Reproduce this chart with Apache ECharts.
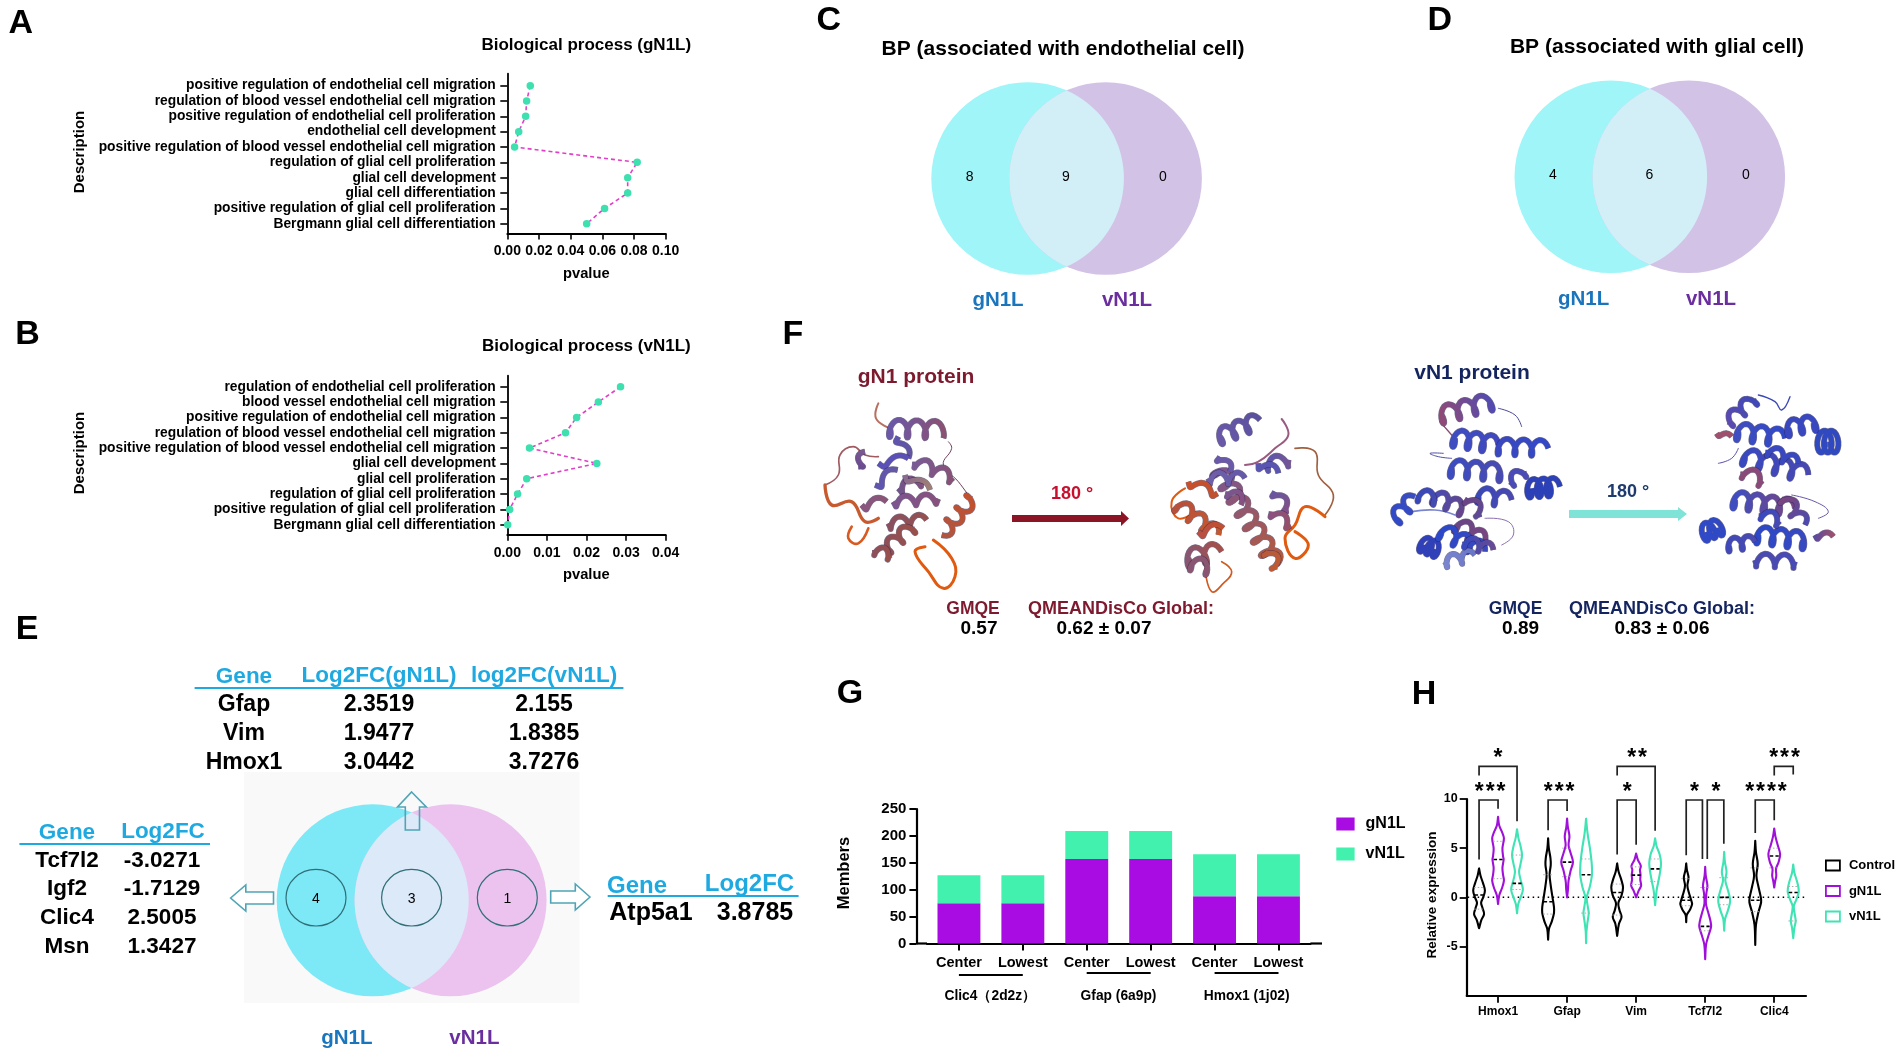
<!DOCTYPE html>
<html><head><meta charset="utf-8">
<style>html,body{margin:0;padding:0;background:#fff}#c{width:1902px;height:1054px}</style>
<script src="https://cdn.jsdelivr.net/npm/echarts@6/dist/echarts.min.js"></script>
</head><body><div id="c"></div>
<script>
// ---------- data ----------
const categoriesA=['positive regulation of endothelial cell migration','regulation of blood vessel endothelial cell migration','positive regulation of endothelial cell proliferation','endothelial cell development','positive regulation of blood vessel endothelial cell migration','regulation of glial cell proliferation','glial cell development','glial cell differentiation','positive regulation of glial cell proliferation','Bergmann glial cell differentiation'];
const pvalueA=[.0145,.0122,.0116,.0072,.0046,.082,.076,.076,.0614,.0501];
const categoriesB=['regulation of endothelial cell proliferation','blood vessel endothelial cell migration','positive regulation of endothelial cell migration','regulation of blood vessel endothelial cell migration','positive regulation of blood vessel endothelial cell migration','glial cell development','glial cell proliferation','regulation of glial cell proliferation','positive regulation of glial cell proliferation','Bergmann glial cell differentiation'];
const pvalueB=[.0286,.023,.0175,.0147,.0056,.0226,.0049,.0026,.0006,.0001];
const vennC=['8','9','0'], vennD=['4','6','0'], vennE=['4','3','1'];
const tableTopHead=['Gene','Log2FC(gN1L)','log2FC(vN1L)'];
const tableTopRows=[['Gfap','2.3519','2.155'],['Vim','1.9477','1.8385'],['Hmox1','3.0442','3.7276']];
const tableLeftHead=['Gene','Log2FC'];
const tableLeftRows=[['Tcf7l2','-3.0271'],['Igf2','-1.7129'],['Clic4','2.5005'],['Msn','1.3427']];
const tableRightHead=['Gene','Log2FC'];
const tableRightRows=[['Atp5a1','3.8785']];
const barCategories=['Center','Lowest','Center','Lowest','Center','Lowest'];
const barGroups=['Clic4（2d2z）','Gfap (6a9p)','Hmox1 (1j02)'];
const membersG=[75,75,157,157,88,88];
const membersV=[52,52,52,52,78,78];
const genes=['Hmox1','Gfap','Vim','Tcf7l2','Clic4'];
const violinControl=[
 [[2.94,0],[2.2,.25],[1.4,.7],[.7,1],[0,.7],[-.55,.35],[-1.1,.6],[-1.7,.85],[-2.3,.4],[-3.14,0]],
 [[6,0],[5,.12],[4,.4],[3.3,.45],[2.3,.25],[1.2,.45],[0,.75],[-1,1],[-1.6,1],[-2.5,.6],[-3.2,.15],[-4.3,0]],
 [[3.45,0],[2.6,.25],[1.8,.7],[1,1],[.2,.75],[-.6,.2],[-1.3,.4],[-2,.75],[-2.7,.3],[-3.92,0]],
 [[3.45,0],[2.8,.12],[2,.4],[1.2,.2],[.5,.45],[-.2,.8],[-.7,1],[-1.3,.6],[-1.8,.1],[-2.53,0]],
 [[5.74,0],[4.6,.12],[3.4,.42],[2.2,.2],[1.2,.5],[0,.95],[-.5,1],[-1.5,.55],[-2.8,.12],[-4.83,0]]];
const violinGN1L=[
 [[8.18,0],[7.3,.2],[6.6,.7],[6,1],[5,.75],[4.2,.85],[3.85,.95],[3,.75],[2.3,.85],[1.7,1],[.9,.65],[.2,.2],[-.68,0]],
 [[8,0],[7.2,.12],[6.2,.4],[5.3,.25],[4.5,.6],[3.6,1],[2.7,.6],[1.7,.25],[.8,.15],[0,0]],
 [[4.46,0],[3.8,.3],[3.2,.8],[2.8,.65],[2.3,.75],[1.8,.7],[1.2,.85],[.7,.45],[0,0]],
 [[3.1,0],[2.2,.1],[1.2,.38],[.4,.2],[-.6,.12],[-1.5,.5],[-2.4,.9],[-3,1],[-3.8,.6],[-4.8,.15],[-6.28,0]],
 [[7,0],[6.2,.2],[5.3,.6],[4.4,1],[3.6,.75],[2.9,.3],[2.2,.35],[1.6,.15],[1,0]]];
const violinVN1L=[
 [[6.93,0],[6,.25],[5.2,.6],[4.3,.85],[3.4,.6],[2.6,.35],[1.8,.6],[.8,1],[0,.6],[-.7,.2],[-1.62,0]],
 [[8,0],[6.5,.25],[5,.65],[3.5,.95],[2.3,1],[1,.6],[0,.12],[-.8,.25],[-1.6,.45],[-2.5,.25],[-3.5,.06],[-4.66,0]],
 [[6,0],[5.2,.25],[4.4,.75],[3.5,1],[2.6,.85],[1.6,.55],[.7,.25],[-.8,0]],
 [[4.63,0],[3.6,.12],[2.6,.4],[1.7,.2],[.8,.6],[0,.95],[-.5,1],[-1.4,.6],[-2.2,.15],[-3.38,0]],
 [[3.34,0],[2.5,.2],[1.5,.7],[.6,.95],[-.2,.55],[-.9,.1],[-1.7,.25],[-2.4,.42],[-3.1,.2],[-4.15,0]]];
const medianControl=[.24,-.44,.5,-.3,-.3], medianGN1L=[3.85,3.58,2.26,-2.95,4.2], medianVN1L=[1.42,2.3,2.9,0,.5];
const quartControl=[[1,-1.2],[2.3,-1.7],[1.35,-1.8],[1.9,-.85],[3,-1.45]];
const quartGN1L=[[5.7,1.9],[5,2.1],[3.1,1.3],[1,-3.4],[5,3]];
const quartVN1L=[[4.3,.8],[3.9,-1.6],[3.9,1.6],[2,-.75],[1.1,-2.4]];
// x1, x2, top, left end, right end (x in gene units, y on the expression scale)
const brackets=[[-.275,.275,13.31,12.4,7.74],[-.275,0,9.9,3.85,9.02],[.725,1,9.9,6.82,8.78],[1.725,2.275,13.31,12.4,6.76],[1.725,2,9.9,4.36,5.34],[2.725,2.96,9.9,4.29,3.89],[3.03,3.27,9.9,3.89,5.44],[3.725,4,9.9,6.55,7.84],[4,4.275,13.31,12.4,12.5]];
const stars=[[0,14.53,'*'],[-.115,11.05,'***'],[.885,11.05,'***'],[2.014,14.53,'**'],[1.87,11.05,'*'],[2.845,11.05,'*'],[3.155,11.05,'*'],[3.88,11.05,'****'],[4.15,14.53,'***']];

// ---------- helpers ----------
const FF='"Liberation Sans",Arial,sans-serif';
const BLK='#000';
function txt(text,x,y,size,opt){opt=opt||{};return {type:'text',x:x,y:y,rotation:opt.rot||0,silent:true,z:20,style:{text:text,font:(opt.weight||'bold')+' '+size+'px '+FF,fill:opt.color||BLK,textAlign:opt.align||'center',textVerticalAlign:'middle'}};}
function hline(x1,x2,y,color,w){return {type:'line',silent:true,z:15,shape:{x1:x1,y1:y,x2:x2,y2:y},style:{stroke:color,lineWidth:w||2}};}
function circle(cx,cy,r,fill,extra){return Object.assign({type:'circle',silent:true,z:5,shape:{cx:cx,cy:cy,r:r},style:{fill:fill}},extra||{});}
function lens(c1,c2,cy,r,fill){const d=(c2-c1)/2,a=Math.acos(d/r),pts=[];
 for(let i=0;i<=40;i++){const t=-a+2*a*i/40;pts.push([c1+r*Math.cos(t),cy+r*Math.sin(t)]);}
 for(let i=0;i<=40;i++){const t=a-2*a*i/40;pts.push([c2-r*Math.cos(t),cy+r*Math.sin(t)]);}
 return {type:'polygon',silent:true,z:6,shape:{points:pts},style:{fill:fill}};}
function venn(c1,c2,cy,r,cols,labels,lx,ly){
 const o=[circle(c1,cy,r,cols[0]),circle(c2,cy,r,cols[1]),lens(c1,c2,cy,r,cols[2])];
 labels.forEach((t,i)=>o.push(txt(t,lx[i],ly,14,{weight:'normal'})));return o;}
function helix(h){const [x1,y1,x2,y2,turns,amp0,c1,c2,w]=h;const amp=amp0*1.1,dx=x2-x1,dy=y2-y1,L=Math.hypot(dx,dy)||1,ux=dx/L,uy=dy/L,nx=-uy,ny=ux,N=Math.max(10,Math.round(turns*18)),pts=[];
 for(let i=0;i<=N;i++){const t=i/N,ph=2*Math.PI*turns*t,s=amp*Math.sin(ph),c=amp*.5*(Math.cos(ph)-1);pts.push([x1+dx*t+nx*s+ux*c,y1+dy*t+ny*s+uy*c]);}
 const grad=new echarts.graphic.LinearGradient(x1,y1,x2,y2,[{offset:0,color:c1},{offset:1,color:c2}],true);
 return [{type:'polyline',silent:true,shape:{points:pts},style:{stroke:'rgba(30,25,70,.6)',lineWidth:(w||15)+3,fill:null,lineJoin:'round'}},
  {type:'polyline',silent:true,shape:{points:pts},style:{stroke:grad,lineWidth:w||15,fill:null,lineJoin:'round'}}];}
function loopLine(l){return {type:'polyline',silent:true,shape:{points:l[0],smooth:.45},style:{stroke:l[1],lineWidth:l[2],fill:null,lineCap:'round'}};}
function protein(x,y,hel,loops){const ch=[];loops.forEach(l=>ch.push(loopLine(l)));hel.forEach(h=>ch.push(...helix(h)));return {type:'group',x:x,y:y,scaleX:1/3,scaleY:1/3,z:8,children:ch};}
function arrowPoly(pts,stroke,fill){return {type:'polygon',silent:true,z:12,shape:{points:pts},style:{stroke:stroke,lineWidth:1.6,fill:fill||'none'}};}

// ---------- protein ribbons (decorative, traced by eye) ----------
const gHel=[
 [225,100,395,105,3.2,24,'#6a58a8','#8d5070'],[250,125,280,190,1,12,'#5f54ae','#62549f'],[190,205,280,190,1,12,'#5a50b8','#5a50b8'],
 [180,270,248,225,1,14,'#5d55b0','#6558a5'],[140,330,215,320,1,14,'#8a5680','#8a5575'],[250,280,335,250,1.5,16,'#73558c','#87507a'],
 [235,320,385,310,2.5,14,'#7c5590','#8a507a'],[300,200,430,255,2.5,16,'#7a5a95','#8a5070'],[220,385,335,375,2,16,'#8a5060','#955050'],
 [215,460,305,385,2.5,18,'#8e4f58','#9b5048'],[470,312,380,420,3,18,'#c2502f','#b05540'],[180,465,240,485,1.5,14,'#8e4f58','#9b5048'],
 [270,240,345,285,1,12,'#8a6a90','#a08070'],[130,215,150,170,1,12,'#6a4a90','#7a5a90'],
 // second view
 [1215,125,1335,75,3,22,'#6a58a8','#5a50a0'],[1215,230,1385,510,7,24,'#7a5590','#b85a3a'],[1180,250,1290,250,2,16,'#7060a8','#6558a8'],
 [1350,210,1440,190,1.5,18,'#5a55b0','#7a5590'],[1380,290,1430,360,1.5,14,'#6a55a0','#8a5080'],[1120,260,1220,300,1.5,12,'#c8502a','#c05030'],
 [1090,330,1210,420,3,20,'#b8503a','#c45a30'],[1120,490,1220,470,2,26,'#8a5570','#a55048'],
 [1330,205,1390,235,1,14,'#5a55b0','#5a55b0'],[1215,185,1245,230,1,14,'#6a58a8','#6a58a8'],[1370,350,1440,400,1.5,14,'#8a5080','#9a5060'],
 [1150,410,1225,400,1,14,'#b85045','#c05030'],[1130,505,1200,525,1.5,20,'#8a5570','#8a5570'],[1360,470,1395,530,1.5,16,'#b85a3a','#c05a30'],[1240,290,1290,320,1.2,14,'#7a5590','#8a5080']];
const gLoop=[
 [[[190,25],[183,70],[225,100]],'#b87060',6],[[[30,270],[70,240],[75,180],[115,155],[150,180],[190,185]],'#a05a60',5],
 [[[30,270],[50,330],[110,320],[150,380],[190,370]],'#c85a30',10],[[[110,395],[100,430],[130,445],[160,400]],'#d85a20',8],
 [[[355,435],[410,490],[420,545],[385,580],[340,530],[300,470],[330,455]],'#e05a10',9],[[[400,140],[410,160],[385,210],[430,260],[470,315]],'#704060',3],
 [[[1400,72],[1420,120],[1380,160],[1330,200],[1290,210]],'#9a5a80',6],[[[1440,160],[1500,170],[1510,240],[1555,300],[1530,360]],'#a06040',5],
 [[[1530,365],[1470,335],[1440,390],[1410,430],[1440,490],[1480,450],[1440,410]],'#e05a10',9],[[[1170,520],[1190,590],[1225,565],[1250,530],[1220,500]],'#d05a20',5],
 [[[1110,280],[1070,320],[1090,370],[1140,350]],'#e05a10',6]];
const vHel=[
 [170,90,340,45,3.5,24,'#8f4a78','#4a4ab8'],[210,160,340,180,3,24,'#3f4dc0','#4048c0'],[340,185,490,190,3,22,'#3a48c0','#3348c8'],
 [200,250,370,265,3.5,24,'#3d4cc0','#4a4ab0'],[375,290,430,250,1.5,16,'#4a4ab8','#4a4ab8'],[440,310,525,305,3,25,'#2c40b8','#2c40b8'],
 [30,400,90,335,2,20,'#2f49c8','#3a4cc0'],[150,335,250,380,2.5,20,'#4a4ab0','#6a4585'],[280,330,380,345,2,22,'#3a48b8','#4a48b0'],
 [220,420,300,470,2,22,'#6a4585','#7a4580'],[120,480,170,500,2.5,22,'#3040b8','#3040b8'],[170,440,300,500,3,22,'#2c48c8','#3a48c0'],
 [180,530,270,510,2,16,'#7a85d0','#6a75c8'],[100,330,170,345,1.5,18,'#3848b8','#4a4ab0'],[250,340,300,400,1.5,16,'#6a4585','#5a4a9a'],[240,470,325,495,2,16,'#3a48c0','#6a4a90'],
 // second view
 [1030,110,1120,30,2.5,18,'#5a4ab0','#3a48b8'],[1060,140,1200,160,3,24,'#3f4dc0','#3048c8'],[1210,130,1310,110,2.5,22,'#3a48c0','#3a48c0'],
 [1320,170,1370,170,2.5,30,'#3048c0','#3048c0'],[1080,215,1270,270,4,24,'#3a48c0','#4848b0'],[1075,260,1150,295,1.5,18,'#8a4a78','#8a4a78'],
 [1050,345,1230,370,4,24,'#3f4dc0','#7a4580'],[965,440,1020,420,2.5,24,'#2f49c8','#3048c0'],[1120,450,1280,470,3.5,24,'#2c48c8','#3a48c0'],
 [1030,480,1110,470,2,18,'#4048b8','#4a4ab0'],[1110,525,1250,530,2.5,18,'#4a4ab0','#4a4ab8'],[1200,340,1260,420,2,18,'#7a4580','#4a4ab0'],
 [1290,450,1345,455,1,10,'#5a4aa0','#a0506a'],[995,145,1040,155,1,6,'#a0506a','#a0506a'],
 [1150,195,1240,235,2,16,'#3a48c0','#3a48c0'],[1130,385,1200,415,1.5,16,'#3a48c0','#4a4ab0']];
const vLoop=[
 [[[165,110],[200,150]],'#8a4a70',4],[[[340,70],[390,90],[410,125]],'#4a4a98',3],[[[175,205],[135,205],[160,215],[200,220]],'#5050a8',3],
 [[[80,380],[150,375],[210,390]],'#7a85d0',5],[[[300,400],[370,410],[385,450],[350,480]],'#8a70b0',3],
 [[[1120,30],[1170,50],[1190,75],[1215,35]],'#3a48b8',4],[[[1000,235],[1040,220],[1060,190]],'#5a50a8',3],[[[1220,330],[1290,350],[1330,380],[1300,400]],'#6a58a8',3]];

// ---------- static layer ----------
const graphics=[];
[['A',20.7,24],['B',27.5,335],['C',828.7,21],['D',1439.8,21],['E',27,630],['F',793,335],['G',850,694],['H',1424,695]].forEach(l=>graphics.push(txt(l[0],l[1],l[2],34)));
graphics.push(txt('Biological process (gN1L)',586.3,45,17),txt('Biological process (vN1L)',586.3,346.5,17));
graphics.push(txt('pvalue',586.3,274,14.7),txt('pvalue',586.3,575,14.7));
graphics.push(txt('Description',80.3,152,15,{rot:Math.PI/2}),txt('Description',80.3,453,15,{rot:Math.PI/2}));
// C, D
const venCols=['#9FF5F8','#D2C3E6','#D2EFF8'];
graphics.push(...venn(1027.6,1105.6,178.5,96.3,venCols,vennC,[969.6,1066,1163],177));
graphics.push(...venn(1610.8,1688.8,176.7,96.3,venCols,vennD,[1552.8,1649.4,1746],175));
graphics.push(txt('BP (associated with endothelial cell)',1063,49,21),txt('BP (associated with glial cell)',1657,47,21));
const BLUE='#1A75BC',PUR='#6A2E9E';
graphics.push(txt('gN1L',998,300,20.5,{color:BLUE}),txt('vN1L',1127,300,20.5,{color:PUR}),txt('gN1L',1583.6,299,20.5,{color:BLUE}),txt('vN1L',1711,299,20.5,{color:PUR}));
// E
graphics.push({type:'rect',silent:true,z:1,shape:{x:244,y:772,width:335.5,height:231},style:{fill:'#F9F9FA'}});
graphics.push(...venn(372.7,450.6,900.3,96,['#7DE8F6','#EBC3EE','#DBE9F8'],[],[],0));
[316,411.6,507.3].forEach((x,i)=>{graphics.push({type:'ellipse',silent:true,z:9,shape:{cx:x,cy:897.7,rx:30,ry:28.3},style:{fill:'none',stroke:'#2F6F78',lineWidth:1.2}});graphics.push(txt(vennE[i],x,899,14,{weight:'normal'}));});
graphics.push(arrowPoly([[411.6,792],[426.3,807],[419.5,807],[419.5,830],[405.3,830],[405.3,807],[397.5,807]],'#4FA5B5'));
graphics.push(arrowPoly([[230.6,898],[245.8,885],[245.8,892],[273.5,892],[273.5,904],[245.8,904],[245.8,911]],'#4FA5B5','#fff'));
graphics.push(arrowPoly([[590,897],[575.3,884],[575.3,891],[550.7,891],[550.7,903],[575.3,903],[575.3,910]],'#4FA5B5','#fff'));
const TB='#1FA9E1',TF=22.5;
[244,379,544].forEach((x,i)=>graphics.push(txt(tableTopHead[i],x,i?676:677,TF,{color:TB})));
graphics.push(hline(194.6,623.4,688,TB,2.2));
tableTopRows.forEach((r,j)=>[244,379,544].forEach((x,i)=>graphics.push(txt(r[i],x,[705,734,763][j],TF+.5))));
[67,163].forEach((x,i)=>graphics.push(txt(tableLeftHead[i],x,i?832:833,TF,{color:TB})));
graphics.push(hline(19.4,210,844,TB,2.2));
tableLeftRows.forEach((r,j)=>[67,162].forEach((x,i)=>graphics.push(txt(r[i],x,[861,889,918,947][j],TF))));
[637,749.5].forEach((x,i)=>graphics.push(txt(tableRightHead[i],x,i?884:886,24,{color:TB})));
graphics.push(hline(607.7,798.6,896,TB,2.2));
tableRightRows.forEach(r=>[651,755].forEach((x,i)=>graphics.push(txt(r[i],x,913,25))));
graphics.push(txt('gN1L',346.8,1038,20.5,{color:BLUE}),txt('vN1L',474.4,1038,20.5,{color:PUR}));
// F
const DR='#7E1A2E',DN='#14245E';
graphics.push(txt('gN1 protein',916,377,21,{color:DR}),txt('vN1 protein',1472,373,21,{color:DN}));
graphics.push(protein(815,395,gHel,gLoop),protein(1385,385,vHel,vLoop));
graphics.push(txt('180 °',1072,494,18,{color:'#C8102E'}),txt('180 °',1628,492,18,{color:'#1E3A6E'}));
graphics.push({type:'polygon',silent:true,z:8,shape:{points:[[1012,515],[1121,515],[1121,511],[1129,518.5],[1121,526],[1121,522],[1012,522]]},style:{fill:'#8B1425'}});
graphics.push({type:'polygon',silent:true,z:8,shape:{points:[[1569,510],[1678,510],[1678,507],[1687,514],[1678,521],[1678,518],[1569,518]]},style:{fill:'#7FE3D8'}});
[['GMQE',973,DR],['QMEANDisCo Global:',1121,DR],['GMQE',1515.6,DN],['QMEANDisCo Global:',1662,DN]].forEach(t=>graphics.push(txt(t[0],t[1],609,t[0]==='GMQE'?17.5:18,{color:t[2]})));
[['0.57',979],['0.62 ± 0.07',1104],['0.89',1520.6],['0.83 ± 0.06',1662]].forEach(t=>graphics.push(txt(t[0],t[1],629,19)));
// G
graphics.push(txt('Members',844.9,873,16.5,{rot:Math.PI/2}));
[[958.9,1022.8,975],[1086.7,1150.7,973],[1214.6,1278.5,973]].forEach(s=>graphics.push(hline(s[0],s[1],s[2],'#000',2.2)));
[990.3,1118.5,1246.7].forEach((x,i)=>graphics.push(txt(barGroups[i],x,996,13.8)));
graphics.push(hline(916.4,927,943.5,'#000',2.2),hline(1310.4,1322,943.5,'#000',2.2));
// H
graphics.push(txt('Relative expression',1432,895,13.5,{rot:Math.PI/2}));

// ---------- chart ----------
const labelFont={fontFamily:FF,fontWeight:'bold',color:'#000'};
const axLine={show:true,onZero:false,lineStyle:{color:'#000',width:1.8}};
const axTick={show:true,length:6,lineStyle:{color:'#000',width:1.6}};
const idx10=[0,1,2,3,4,5,6,7,8,9];
function catY(gridIndex,cats,min,max){return {gridIndex,type:'value',inverse:true,min,max,splitLine:{show:false},axisLine:axLine,
 axisTick:Object.assign({},axTick,{customValues:idx10,length:7}),
 axisLabel:Object.assign({},labelFont,{fontSize:13.8,margin:11.5,customValues:idx10,formatter:v=>cats[v]})};}
function pvX(gridIndex,max,interval){return {gridIndex,type:'value',min:0,max,interval,splitLine:{show:false},axisLine:axLine,axisTick:axTick,
 axisLabel:Object.assign({},labelFont,{fontSize:14,margin:11,formatter:v=>v.toFixed(2)})};}
function pvSeries(xi,vals,name){return {name,type:'line',xAxisIndex:xi,yAxisIndex:xi,data:vals.map((v,i)=>[v,i]),symbol:'circle',symbolSize:7.5,
 itemStyle:{color:'#3FE0B0'},lineStyle:{color:'#E23FC8',width:1.6,type:[4,3]},z:4,animation:false};}
const K=.085;
function violinSeries(name,color,offset,prof,med,quart){return {name,type:'custom',xAxisIndex:3,yAxisIndex:3,data:genes.map((g,i)=>[i+offset,med[i]]),encode:{x:0,y:1},animation:false,silent:true,z:5,clip:false,
 renderItem:(p,api)=>{const i=p.dataIndex,x0=api.value(0),pr=prof[i];
  const left=pr.map(n=>api.coord([x0-n[1]*K,n[0]])),right=pr.slice().reverse().map(n=>api.coord([x0+n[1]*K,n[0]]));
  const ch=[{type:'polygon',shape:{points:left.concat(right),smooth:.35},style:{fill:'none',stroke:color,lineWidth:2.1,lineJoin:'round'}}];
  quart[i].forEach(q=>{const a=api.coord([x0-.07,q]),b=api.coord([x0+.07,q]);ch.push({type:'line',shape:{x1:a[0],y1:a[1],x2:b[0],y2:b[1]},style:{stroke:'#aaa',lineWidth:1,lineDash:[1.5,2]}});});
  const a=api.coord([x0-.065,med[i]]),b=api.coord([x0+.065,med[i]]);
  ch.push({type:'line',shape:{x1:a[0],y1:a[1],x2:b[0],y2:b[1]},style:{stroke:'#000',lineWidth:1.6,lineDash:[3.5,2.2]}});
  return {type:'group',children:ch};}};}
const series=[
 pvSeries(0,pvalueA,'pvalue gN1L'),pvSeries(1,pvalueB,'pvalue vN1L'),
 {name:'gN1L',type:'bar',xAxisIndex:2,yAxisIndex:2,stack:'m',barWidth:42.9,data:membersG,itemStyle:{color:'#A90BE3'},animation:false},
 {name:'vN1L',type:'bar',xAxisIndex:2,yAxisIndex:2,stack:'m',barWidth:42.9,data:membersV,itemStyle:{color:'#43F1AE'},animation:false},
 {name:'zero',type:'line',xAxisIndex:3,yAxisIndex:3,data:[[-.44,0],[4.44,0]],showSymbol:false,symbol:'none',lineStyle:{color:'#000',width:1.5,type:[1.5,3.5]},animation:false,z:3},
 violinSeries('Control','#000',-.275,violinControl,medianControl,quartControl),
 violinSeries('gN1L ','#A010D8',0,violinGN1L,medianGN1L,quartGN1L),
 violinSeries('vN1L ','#3FE3B4',.275,violinVN1L,medianVN1L,quartVN1L),
 {name:'brackets',type:'custom',xAxisIndex:3,yAxisIndex:3,data:brackets,encode:{x:[0,1],y:[2]},animation:false,silent:true,clip:false,z:6,
  renderItem:(p,api)=>{const x1=api.value(0),x2=api.value(1),t=api.value(2),l=api.value(3),r=api.value(4);
   return {type:'polyline',shape:{points:[api.coord([x1,l]),api.coord([x1,t]),api.coord([x2,t]),api.coord([x2,r])]},style:{fill:'none',stroke:'#222',lineWidth:1.7}};}},
 {name:'stars',type:'custom',xAxisIndex:3,yAxisIndex:3,data:stars,encode:{x:0,y:1},animation:false,silent:true,clip:false,z:6,
  renderItem:(p,api)=>{const c=api.coord([api.value(0),api.value(1)]);const s=stars[p.dataIndex][2];
   return {type:'text',x:c[0],y:c[1]+4,style:{text:s.split('').join('\u200A'),font:'bold 23px '+FF,fill:'#000',textAlign:'center',textVerticalAlign:'middle'}};}}
];
const option={
 animation:false,backgroundColor:'#fff',textStyle:{fontFamily:FF},
 grid:[{left:507.3,top:73.7,width:158.4,height:159.7},{left:507.3,top:375.7,width:158.4,height:159},{left:927,top:809,width:383.4,height:134.5},{left:1466.7,top:799,width:339.3,height:196.7}],
 xAxis:[pvX(0,.1,.02),pvX(1,.04,.01),
  {gridIndex:2,type:'category',data:barCategories,splitLine:{show:false},axisLine:{show:true,onZero:false,lineStyle:{color:'#000',width:2.2}},
   axisTick:{show:true,length:7,alignWithLabel:true,lineStyle:{color:'#000',width:2}},
   axisLabel:Object.assign({},labelFont,{fontSize:14.5,margin:12,interval:0})},
  {gridIndex:3,type:'value',min:-.454,max:4.46,splitLine:{show:false},axisLine:{show:true,onZero:false,lineStyle:{color:'#000',width:2.2}},
   axisTick:{show:true,length:7,customValues:[0,1,2,3,4],lineStyle:{color:'#000',width:1.8}},
   axisLabel:Object.assign({},labelFont,{fontSize:12,margin:10,customValues:[0,1,2,3,4],formatter:v=>genes[v]})}],
 yAxis:[catY(0,categoriesA,-.78,9.63),catY(1,categoriesB,-.72,9.65),
  {gridIndex:2,type:'value',min:0,max:250,interval:50,offset:10.6,splitLine:{show:false},axisLine:{show:true,onZero:false,lineStyle:{color:'#000',width:2.2}},axisTick:{show:true,length:7,lineStyle:{color:'#000',width:2}},axisLabel:Object.assign({},labelFont,{fontSize:15,margin:10})},
  {gridIndex:3,type:'value',min:-10,max:10,interval:5,splitLine:{show:false},axisLine:{show:true,onZero:false,lineStyle:{color:'#000',width:2.2}},
   axisTick:{show:true,length:7,customValues:[-5,0,5,10],lineStyle:{color:'#000',width:1.8}},
   axisLabel:Object.assign({},labelFont,{fontSize:12.5,margin:9,customValues:[-5,0,5,10]})}],
 legend:[
  {left:1336.3,top:816,padding:0,orient:'vertical',itemWidth:18.3,itemHeight:13,itemGap:14,selectedMode:false,textStyle:Object.assign({},labelFont,{fontSize:16,padding:[0,0,0,6]}),data:[{name:'gN1L',icon:'rect'},{name:'vN1L',icon:'rect'}]},
  {left:1825,top:859,padding:0,orient:'vertical',itemWidth:14,itemHeight:10,itemGap:12.5,selectedMode:false,textStyle:Object.assign({},labelFont,{fontSize:13,padding:[0,0,0,4]}),
   data:[{name:'Control',icon:'rect',itemStyle:{color:'#fff',borderColor:'#000',borderWidth:1.8}},{name:'gN1L ',icon:'rect',itemStyle:{color:'#fff',borderColor:'#A010D8',borderWidth:1.8}},{name:'vN1L ',icon:'rect',itemStyle:{color:'#fff',borderColor:'#3FE3B4',borderWidth:1.8}}]}],
 series:series,
 graphic:{elements:graphics}
};
const chart=echarts.init(document.getElementById('c'),null,{renderer:'canvas'});
chart.setOption(option);
</script></body></html>
